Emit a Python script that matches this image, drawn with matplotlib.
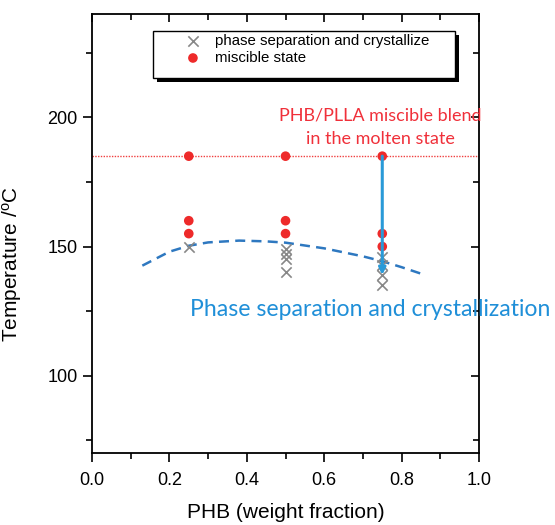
import numpy as np
import matplotlib
matplotlib.use('Agg')
import matplotlib.pyplot as plt
from matplotlib.ticker import MultipleLocator
from matplotlib.patches import Rectangle
import matplotlib.transforms as mtransforms

plt.rcParams['font.family'] = ['Liberation Sans', 'DejaVu Sans']
plt.rcParams['mathtext.fontset'] = 'custom'
plt.rcParams['mathtext.rm'] = 'Liberation Sans'
plt.rcParams['mathtext.it'] = 'Liberation Sans'

# data
miscible_x = [0.25, 0.25, 0.25, 0.5, 0.5, 0.5, 0.75, 0.75, 0.75]
miscible_t = [185, 160, 155, 185, 160, 155, 185, 155, 150]

phase_x = [0.25, 0.5, 0.5, 0.5, 0.5, 0.75, 0.75, 0.75, 0.75]
phase_t = [150, 149, 147, 145, 140, 146, 143, 139, 135]

# dashed boundary curve
curve_x = [0.13, 0.2, 0.25, 0.3, 0.38, 0.45, 0.5, 0.6, 0.7, 0.75, 0.8, 0.85]
curve_t = [142.6, 148.0, 150.3, 151.6, 152.3, 152.0, 151.5, 149.3, 146.2, 144.3, 142.0, 139.5]

melt_temp = 185
arrow_x = 0.75
arrow_top, arrow_bottom = 185, 139

fig = plt.figure(figsize=(5.55, 5.25), dpi=100)
ax = fig.add_axes([0.1658, 0.137, 0.6973, 0.836])

ax.axhline(melt_temp, color='#f04040', linestyle=(0, (1, 1)), linewidth=1.0, zorder=1)
ax.plot(curve_x, curve_t, color='#2e78c0', linestyle=(0, (4, 2.5)), linewidth=1.8, zorder=2)

ax.scatter(phase_x, phase_t, marker='x', s=55, color='#888888', linewidths=1.2, zorder=3,
           label='phase separation and crystallize')
ax.scatter(miscible_x, miscible_t, marker='o', s=48, color='#ee2a2a', edgecolors='none', zorder=4,
           label='miscible state')

ax.annotate('', xy=(arrow_x, arrow_bottom), xytext=(arrow_x, arrow_top),
            arrowprops=dict(arrowstyle='-|>', color='#2a9ad8', lw=2.2, mutation_scale=10,
                            shrinkA=0, shrinkB=0), zorder=5)

ax.text(0.745, 188.5, 'PHB/PLLA miscible blend\nin the molten state', color='#f0303a',
        family='Lato', fontsize=13, ha='center', va='bottom', linespacing=1.6, zorder=6)
ax.text(0.253, 125.6, 'Phase separation and crystallization', color='#1f8fd8',
        family='Lato', fontsize=16.6, ha='left', va='center', clip_on=False, zorder=6)

ax.set_xlim(0.0, 1.0)
ax.set_ylim(70, 240)
ax.xaxis.set_minor_locator(MultipleLocator(0.1))
ax.yaxis.set_minor_locator(MultipleLocator(25))
ax.set_xticks([0.0, 0.2, 0.4, 0.6, 0.8, 1.0])
ax.set_xticklabels(['0.0', '0.2', '0.4', '0.6', '0.8', '1.0'])
ax.set_yticks([100, 150, 200])

ax.tick_params(which='both', direction='out', top=False, right=False, labelsize=13, width=1.2)
ax.tick_params(which='major', length=6.5)
ax.tick_params(which='minor', length=4)
ax.tick_params(axis='x', pad=7)
ax.tick_params(axis='y', pad=4)
# inward ticks on the top and right spines
sec_x = ax.secondary_xaxis('top')
sec_x.xaxis.set_major_locator(MultipleLocator(0.2))
sec_x.xaxis.set_minor_locator(MultipleLocator(0.1))
sec_x.tick_params(which='both', direction='in', labeltop=False, width=1.2)
sec_x.tick_params(which='major', length=6)
sec_x.tick_params(which='minor', length=4)
sec_y = ax.secondary_yaxis('right')
sec_y.yaxis.set_major_locator(MultipleLocator(50))
sec_y.yaxis.set_minor_locator(MultipleLocator(25))
sec_y.tick_params(which='both', direction='in', labelright=False, width=1.2)
sec_y.tick_params(which='major', length=6)
sec_y.tick_params(which='minor', length=4)
for s in list(ax.spines.values()):
    s.set_linewidth(1.3)
sec_x.spines['top'].set_visible(False)
sec_y.spines['right'].set_visible(False)

ax.set_xlabel('PHB (weight fraction)', fontsize=15, labelpad=10)
ax.set_ylabel(r'Temperature /$^o$C', fontsize=15)
ax.yaxis.set_label_coords(-0.175, 0.43)

# legend box with a solid black drop shadow
box = (0.158, 0.854, 0.78, 0.107)
shadow_tr = ax.transAxes + mtransforms.ScaledTranslation(4 / 100, -4 / 100, fig.dpi_scale_trans)
ax.add_patch(Rectangle(box[:2], box[2], box[3], transform=shadow_tr, facecolor='black',
                       edgecolor='none', zorder=7, clip_on=False))
ax.add_patch(Rectangle(box[:2], box[2], box[3], transform=ax.transAxes, facecolor='white',
                       edgecolor='black', linewidth=1.0, zorder=8, clip_on=False))
leg = ax.legend(loc='upper left', bbox_to_anchor=(0.222, 0.955), frameon=False,
                fontsize=10.8, borderpad=0, borderaxespad=0, handletextpad=0.5,
                labelspacing=0.2, handlelength=2.0)
leg.set_zorder(9)

fig.savefig('out.png', dpi=100)
